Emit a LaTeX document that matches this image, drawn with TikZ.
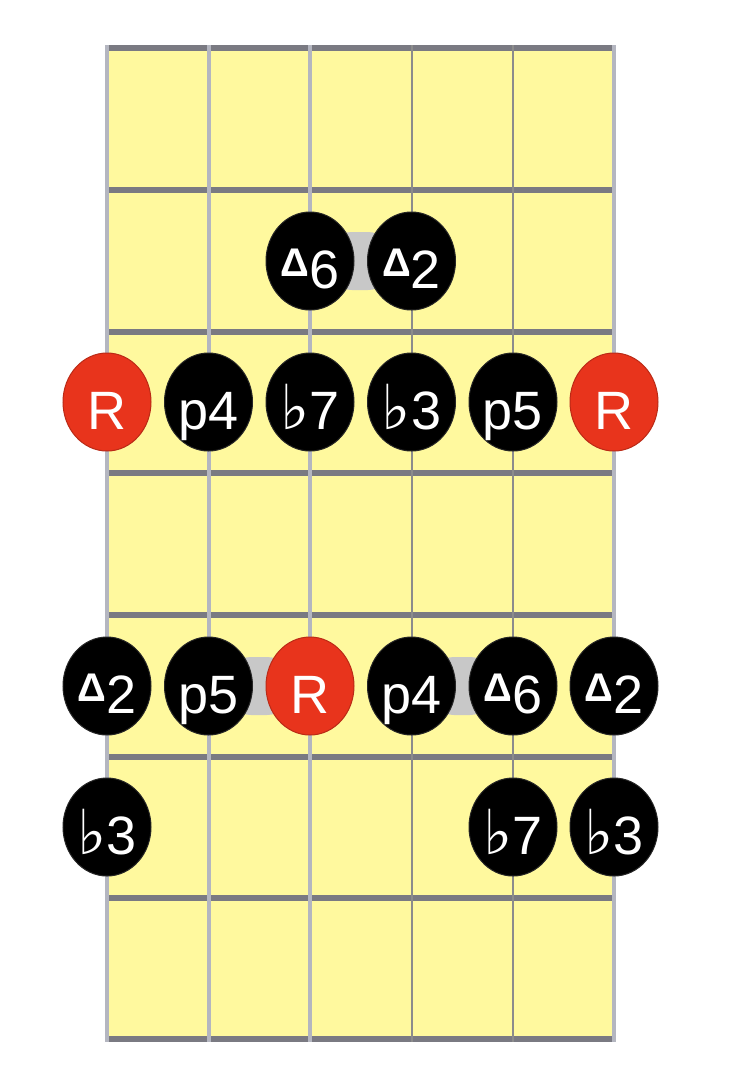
\documentclass[tikz,border=0pt]{standalone}
\usepackage{fontspec}
\setmainfont{Liberation Sans}
\newfontfamily\symfont{DejaVu Sans}
\usetikzlibrary{shapes.geometric}
\definecolor{boardyellow}{RGB}{255,249,158}
\definecolor{fretgray}{RGB}{122,122,130}
\definecolor{stringlight}{RGB}{180,182,192}
\definecolor{stringdark}{RGB}{140,140,140}
\definecolor{rootred}{RGB}{232,52,28}
\definecolor{linkgray}{RGB}{200,200,200}
\tikzset{
  notebox/.style={ellipse, draw=black!85, line width=0.5pt, inner sep=0pt,
    minimum width=44pt, minimum height=49pt},
  blacknote/.style={notebox, fill=black},
  rootnote/.style={notebox, fill=rootred, draw=rootred!80!black},
  notelabel/.style={anchor=base, text=white, inner sep=0pt,
    font=\fontsize{27}{27}\selectfont},
  linkbox/.style={rectangle, rounded corners=12pt, fill=linkgray, inner sep=0pt,
    minimum width=32pt, minimum height=29pt},
  fretline/.style={draw=fretgray, line width=3pt},
  stringlightline/.style={draw=stringlight, line width=2pt},
  stringdarkline/.style={draw=stringdark, line width=1pt},
}
\newcommand{\flt}{{\symfont\fontsize{31}{31}\selectfont ♭}}
\newcommand{\tri}{{\fontsize{20}{20}\selectfont\raisebox{6pt}{\textbf{Δ}}}}
\newcommand{\putnote}[5]{%
  \node[#4] (#1) at (#2,#3) {};
  \node[notelabel] (#1t) at ([yshift=-13.5pt]#1.center) {#5};
}
\begin{document}
\begin{tikzpicture}[x=0.5pt,y=-0.5pt]
\path[fill=white] (0,0) rectangle (732,1084);
\useasboundingbox (0,0) rectangle (732,1084);
% board
\fill[boardyellow] (107,48) rectangle (614,1039);
% frets
\foreach \fy in {48,190,332,473,615,757,898,1039}
  \draw[fretline] (107,\fy) -- (614,\fy);
% strings
\foreach \sx in {107,208.5,310,614}
  \draw[stringlightline] (\sx,45) -- (\sx,1042);
\foreach \sx in {411.5,513}
  \draw[stringdarkline] (\sx,45) -- (\sx,1042);
% links
\node[linkbox] (l1) at (360,261) {};
\node[linkbox] (l2) at (259,686) {};
\node[linkbox] (l3) at (462,686) {};
% row 2
\putnote{a1}{310}{261}{blacknote}{\tri6}
\putnote{a2}{411.5}{261}{blacknote}{\tri2}
% row 3
\putnote{b1}{107}{402}{rootnote}{R}
\putnote{b2}{208.5}{402}{blacknote}{p4}
\putnote{b3}{310}{402}{blacknote}{\flt7}
\putnote{b4}{411.5}{402}{blacknote}{\flt3}
\putnote{b5}{513}{402}{blacknote}{p5}
\putnote{b6}{614}{402}{rootnote}{R}
% row 5
\putnote{c1}{107}{686}{blacknote}{\tri2}
\putnote{c2}{208.5}{686}{blacknote}{p5}
\putnote{c3}{310}{686}{rootnote}{R}
\putnote{c4}{411.5}{686}{blacknote}{p4}
\putnote{c5}{513}{686}{blacknote}{\tri6}
\putnote{c6}{614}{686}{blacknote}{\tri2}
% row 6
\putnote{d1}{107}{827}{blacknote}{\flt3}
\putnote{d5}{513}{827}{blacknote}{\flt7}
\putnote{d6}{614}{827}{blacknote}{\flt3}
\end{tikzpicture}
\end{document}
